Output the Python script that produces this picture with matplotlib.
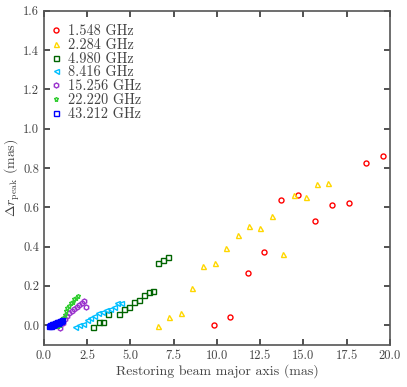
import matplotlib
matplotlib.use("Agg")
import matplotlib.pyplot as plt

plt.rcParams['font.family'] = 'serif'
plt.rcParams['font.serif'] = ['cmr10', 'DejaVu Serif']
plt.rcParams['mathtext.fontset'] = 'cm'
plt.rcParams['axes.formatter.use_mathtext'] = True

# 1.548 GHz
x_1548 = [9.81, 10.78, 11.77, 12.75, 13.70, 14.69, 15.67, 16.66, 17.62, 18.61, 19.58]
y_1548 = [0.00, 0.04, 0.265, 0.37, 0.636, 0.665, 0.532, 0.614, 0.620, 0.827, 0.859]

# 2.284 GHz
x_2284 = [6.57, 7.25, 7.90, 8.56, 9.22, 9.87, 10.53, 11.19, 11.85, 12.50, 13.16,
          13.82, 14.48, 15.13, 15.79, 16.45]
y_2284 = [-0.005, 0.04, 0.063, 0.19, 0.303, 0.319, 0.395, 0.46, 0.507, 0.497, 0.558,
          0.364, 0.661, 0.651, 0.717, 0.724]

# 4.980 GHz
x_4980 = [2.86, 3.17, 3.44, 3.73, 4.31, 4.60, 4.89, 5.18, 5.47, 5.76, 6.05, 6.32,
          6.57, 6.86, 7.15]
y_4980 = [-0.008, 0.015, 0.015, 0.058, 0.058, 0.08, 0.092, 0.119, 0.127, 0.155, 0.168,
          0.175, 0.317, 0.332, 0.348]

# 8.416 GHz
x_8416 = [1.80, 2.03, 2.24, 2.47, 2.67, 2.92, 3.15, 3.38, 3.59, 3.83, 4.06, 4.25, 4.44]
y_8416 = [-0.008, 0.002, 0.008, 0.025, 0.036, 0.046, 0.063, 0.066, 0.076, 0.083, 0.094,
          0.114, 0.114]

# 15.256 GHz
x_15256 = [0.93, 1.08, 1.20, 1.32, 1.47, 1.60, 1.74, 1.89, 2.05, 2.20, 2.32, 2.43]
y_15256 = [-0.015, 0.009, 0.029, 0.046, 0.060, 0.071, 0.083, 0.094, 0.105, 0.114, 0.125,
           0.094]

# 22.220 GHz
x_22220 = [0.80, 0.93, 1.04, 1.12, 1.20, 1.28, 1.35, 1.47, 1.57, 1.66, 1.76, 1.86, 1.95]
y_22220 = [-0.005, 0.003, 0.02, 0.037, 0.054, 0.071, 0.085, 0.10, 0.114, 0.117, 0.131,
           0.139, 0.151]

# 43.212 GHz
x_43212 = [0.31, 0.36, 0.40, 0.45, 0.50, 0.55, 0.60, 0.64, 0.69, 0.74, 0.79, 0.84,
           0.89, 0.94, 0.99, 1.05]
y_43212 = [-0.005, 0.0, -0.003, 0.004, 0.002, 0.008, 0.005, 0.012, 0.009, 0.014, 0.012,
           0.018, 0.016, 0.021, 0.022, 0.027]

series = [
    (x_1548, y_1548, '1.548 GHz', 'o', '#ff0000'),
    (x_2284, y_2284, '2.284 GHz', '^', '#ffd700'),
    (x_4980, y_4980, '4.980 GHz', 's', '#006400'),
    (x_8416, y_8416, '8.416 GHz', '<', '#00bfff'),
    (x_15256, y_15256, '15.256 GHz', 'h', '#9932cc'),
    (x_22220, y_22220, '22.220 GHz', '*', '#32cd32'),
    (x_43212, y_43212, '43.212 GHz', 's', '#0000ff'),
]

fig = plt.figure(figsize=(4.07, 3.87), dpi=100)
ax = fig.add_axes([0.108, 0.109, 0.850, 0.863])

for xs, ys, lab, mk, col in series:
    ax.plot(xs, ys, linestyle='none', marker=mk, markersize=3.6,
            markerfacecolor='none', markeredgecolor=col, markeredgewidth=1.0,
            label=lab)

ax.set_xlim(0, 20)
ax.set_ylim(-0.1, 1.6)
ax.set_xticks([0, 2.5, 5, 7.5, 10, 12.5, 15, 17.5, 20])
ax.set_yticks([0.0, 0.2, 0.4, 0.6, 0.8, 1.0, 1.2, 1.4, 1.6])
ax.xaxis.set_major_formatter(matplotlib.ticker.FormatStrFormatter('%.1f'))
ax.yaxis.set_major_formatter(matplotlib.ticker.FormatStrFormatter('%.1f'))
ax.tick_params(direction='in', top=True, right=True, length=4, width=1.2,
               labelsize=9, colors='#333333', labelcolor='#444444')
for sp in ax.spines.values():
    sp.set_linewidth(1.2)
    sp.set_color('#555555')

ax.set_xlabel('Restoring beam major axis (mas)', fontsize=10, color='#444444', labelpad=2)
ax.set_ylabel(r'$\Delta r_{\rm peak}$ (mas)', fontsize=10, color='#444444', labelpad=1)

ax.legend(loc='upper left', bbox_to_anchor=(0.006, 0.972), frameon=False,
          fontsize=10.3, handletextpad=0.42, labelspacing=0.0, borderaxespad=0,
          borderpad=0.3, handlelength=0.85, labelcolor='#444444')

fig.savefig('out.png', dpi=100)
